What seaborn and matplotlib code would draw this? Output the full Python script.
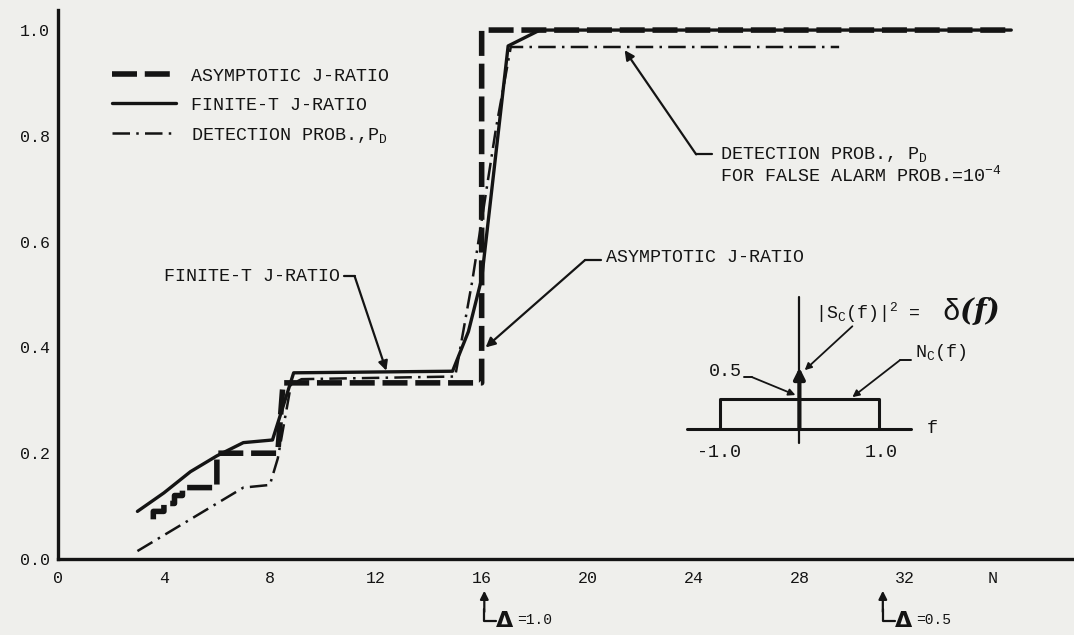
import matplotlib
matplotlib.use("Agg")
import matplotlib.pyplot as plt
import pandas as pd
import seaborn as sns

# ---- values ----
asym_n = [3.6, 3.6, 4.0, 4.0, 4.4, 4.4, 4.7, 4.7, 6.0, 6.0, 8.3, 8.5, 16.0, 16.0, 36.0]
asym_j = [0.075, 0.09, 0.09, 0.105, 0.105, 0.12, 0.12, 0.135, 0.135, 0.2, 0.2, 0.333, 0.333, 1.0, 1.0]

finite_n = [3.0, 4.0, 5.0, 6.0, 7.0, 8.1, 8.9, 14.9, 15.5, 16.0, 17.0, 18.2, 36.0]
finite_j = [0.09, 0.125, 0.165, 0.195, 0.22, 0.225, 0.352, 0.355, 0.43, 0.53, 0.97, 1.0, 1.0]

detect_n = [3.0, 7.0, 8.0, 8.3, 8.8, 9.2, 15.0, 15.65, 16.55, 17.1, 29.5]
detect_p = [0.015, 0.135, 0.14, 0.19, 0.33, 0.34, 0.345, 0.527, 0.817, 0.968, 0.968]

xtick_major = [0, 4, 8, 12, 16, 20, 24, 28, 32]
xtick_minor = list(range(0, 37, 2))
ytick_major = [0.0, 0.2, 0.4, 0.6, 0.8, 1.0]
ytick_minor = [i / 10 for i in range(11)]

labels = ["ASYMPTOTIC J-RATIO", "FINITE-T J-RATIO", r"DETECTION PROB.,P$_\mathrm{D}$"]

ink = "#141414"
paper = "#efefec"
mono = "Liberation Mono"

sns.set_theme(style="white")
plt.rcParams["font.family"] = [mono, "DejaVu Sans"]
plt.rcParams["mathtext.fontset"] = "custom"
plt.rcParams["mathtext.rm"] = mono
plt.rcParams["mathtext.it"] = mono

fig = plt.figure(figsize=(10.74, 6.35), dpi=100, facecolor=paper)
ax = fig.add_axes([0.054, 0.1197, 0.946, 0.8646], facecolor=paper)

df_a = pd.DataFrame({"N": asym_n, "J": asym_j})
df_f = pd.DataFrame({"N": finite_n, "J": finite_j})
df_d = pd.DataFrame({"N": detect_n, "J": detect_p})

sns.lineplot(data=df_f, x="N", y="J", ax=ax, estimator=None, sort=False,
             color=ink, lw=2.4, label=labels[1])
sns.lineplot(data=df_a, x="N", y="J", ax=ax, estimator=None, sort=False,
             color=ink, lw=4.0, linestyle=(0, (4.5, 1.4)), label=labels[0])
sns.lineplot(data=df_d, x="N", y="J", ax=ax, estimator=None, sort=False,
             color=ink, lw=1.8, linestyle=(0, (7, 2.5, 1, 2.5)), label=labels[2])

ax.set_xlim(0, 38.37)
ax.set_ylim(0, 1.038)
ax.set_xlabel("")
ax.set_ylabel("")
ax.set_xticks(xtick_major)
ax.set_xticks(xtick_minor, minor=True)
ax.set_yticks(ytick_major)
ax.set_yticks(ytick_minor, minor=True)
ax.set_yticklabels([f"{v:.1f}" for v in ytick_major])
ax.tick_params(which="both", direction="inout", length=5, width=2.2, color=ink,
               labelsize=12, labelcolor=ink)
ax.tick_params(axis="x", pad=6)
sns.despine(ax=ax)
for s in ["left", "bottom"]:
    ax.spines[s].set_color(ink)
    ax.spines[s].set_linewidth(2.4)
ax.text(35.3, -0.036, "N", ha="center", va="center", fontsize=12, color=ink)

# legend, rebuilt in the original order
h, l = ax.get_legend_handles_labels()
order = [1, 0, 2]
leg = ax.legend([h[i] for i in order], [l[i] for i in order], loc="upper left",
                bbox_to_anchor=(0.037, 0.925), frameon=False, fontsize=13.2,
                handlelength=3.5, labelspacing=0.66, handletextpad=0.8)
for t in leg.get_texts():
    t.set_color(ink)

txt = dict(fontsize=13.2, color=ink)
arr = dict(arrowstyle="-|>", color=ink, lw=1.6, mutation_scale=14,
           shrinkA=0, shrinkB=0)
small_arr = dict(arr, lw=1.3, mutation_scale=10)

# FINITE-T callout
ax.text(4.0, 0.535, "FINITE-T J-RATIO", va="center", **txt)
ax.plot([10.8, 11.2], [0.535, 0.535], color=ink, lw=1.6)
ax.annotate("", xy=(12.4, 0.356), xytext=(11.2, 0.535), arrowprops=arr)

# ASYMPTOTIC callout
ax.text(20.7, 0.57, "ASYMPTOTIC J-RATIO", va="center", **txt)
ax.plot([20.5, 19.9], [0.565, 0.565], color=ink, lw=1.6)
ax.annotate("", xy=(16.15, 0.40), xytext=(19.9, 0.565), arrowprops=arr)

# DETECTION PROB callout
ax.text(25.0, 0.765, r"DETECTION PROB., P$_\mathrm{D}$", va="center", **txt)
ax.text(25.0, 0.725, r"FOR FALSE ALARM PROB.=10$^{-4}$", va="center", **txt)
ax.plot([24.7, 24.1], [0.765, 0.765], color=ink, lw=1.6)
ax.annotate("", xy=(21.4, 0.962), xytext=(24.1, 0.765), arrowprops=arr)

# inset sketch of the spectra
f_axis_n = [23.74, 32.2]
box_n = [25.0, 25.0, 31.0, 31.0]
box_j = [0.246, 0.303, 0.303, 0.246]
ax.plot(f_axis_n, [0.246, 0.246], color=ink, lw=2.2)
ax.plot(box_n, box_j, color=ink, lw=2.2)
ax.plot([28.0, 28.0], [0.22, 0.495], color=ink, lw=1.6)
ax.annotate("", xy=(28.0, 0.362), xytext=(28.0, 0.246),
            arrowprops=dict(arrowstyle="-|>", color=ink, lw=3.0, mutation_scale=16,
                            shrinkA=0, shrinkB=0))
ax.text(32.8, 0.246, "f", va="center", **txt)
ax.text(24.95, 0.202, "-1.0", ha="center", va="center", **txt)
ax.text(31.1, 0.202, "1.0", ha="center", va="center", **txt)
ax.text(25.2, 0.354, "0.5", ha="center", va="center", **txt)
ax.plot([25.9, 26.2], [0.344, 0.344], color=ink, lw=1.4)
ax.annotate("", xy=(27.85, 0.31), xytext=(26.2, 0.344), arrowprops=small_arr)
ax.text(32.35, 0.39, r"N$_\mathrm{C}$(f)", va="center", **txt)
ax.plot([32.2, 31.8], [0.376, 0.376], color=ink, lw=1.4)
ax.annotate("", xy=(30.0, 0.306), xytext=(31.8, 0.376), arrowprops=small_arr)
ax.text(28.6, 0.465, r"|S$_\mathrm{C}$(f)|$^2$ =", va="center", **txt)
ax.text(33.4, 0.468, r"$\delta$(f)", va="center", fontsize=21, fontweight="bold",
        fontstyle="italic", family="DejaVu Serif", color=ink)
ax.annotate("", xy=(28.2, 0.357), xytext=(30.0, 0.44), arrowprops=small_arr)

# resolution markers under the axis
for n_mark, lab in [(16.1, "=1.0"), (31.15, "=0.5")]:
    ax.annotate("", xy=(n_mark, -0.06), xytext=(n_mark, -0.1), annotation_clip=False,
                arrowprops=dict(arrowstyle="-|>", color=ink, lw=1.6, mutation_scale=12,
                                shrinkA=0, shrinkB=0))
    ax.plot([n_mark, n_mark, n_mark + 0.45], [-0.095, -0.118, -0.118], color=ink, lw=1.6,
            clip_on=False)
    ax.text(n_mark + 0.45, -0.118, "Δ", fontsize=16, fontweight="bold", va="center",
            color=ink, family="DejaVu Sans")
    ax.text(n_mark + 1.25, -0.115, lab, fontsize=10.5, va="center", color=ink)

fig.savefig("out.png", dpi=100, facecolor=paper)
